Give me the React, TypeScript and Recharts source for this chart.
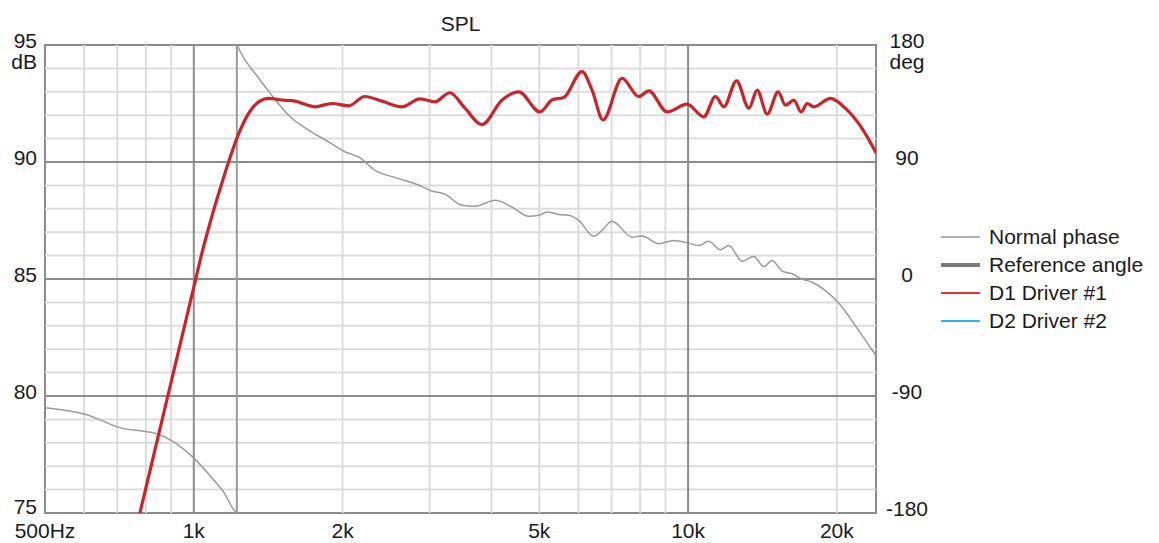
import React from "react";
import {
  LineChart,
  Line,
  XAxis,
  YAxis,
  ReferenceLine,
  ReferenceArea,
} from "recharts";

// SPL of driver #1 (dB)
const splFreq = [
  750, 778, 886, 1009, 1030, 1087, 1139, 1176, 1232, 1290, 1352, 1417, 1507, 1601, 1758, 1903,
  2057, 2219, 2403, 2636, 2868, 3075, 3296, 3537, 3828, 4203, 4542, 5016, 5305, 5604, 6102, 6394,
  6728, 7353, 7946, 8328, 9069, 9953, 10760, 11360, 11815, 12530, 13275, 13795, 14455, 15213,
  15740, 16370, 16935, 17413, 17967, 19410, 20820, 22500, 24000,
];
const splDb = [
  73.6, 75.0, 80.0, 85.0, 85.8, 87.65, 89.08, 90.0, 91.2, 92.07, 92.57, 92.72, 92.65, 92.6, 92.36,
  92.5, 92.4, 92.8, 92.6, 92.36, 92.7, 92.57, 92.96, 92.3, 91.6, 92.65, 93.0, 92.14, 92.65, 92.76,
  93.86, 93.07, 91.8, 93.57, 92.8, 93.04, 92.14, 92.47, 91.93, 92.8, 92.36, 93.47, 92.3, 93.07,
  92.05, 93.0, 92.43, 92.64, 92.14, 92.5, 92.36, 92.72, 92.29, 91.43, 90.4,
];

// normal phase (deg): below the wrap at ~1.22 kHz, then above it
const phaseLowFreq = [500, 603, 715, 785, 848, 903, 998, 1087, 1157, 1203, 1222];
const phaseLowDeg = [-99, -104, -114.7, -117, -119.4, -124.5, -137.4, -152.8, -165.6, -177.2, -180];
const phaseWrapFreq = [1222, 1222];
const phaseWrapDeg = [-180, 180];
const phaseHighFreq = [
  1222, 1270, 1331, 1427, 1555, 1707, 1874, 2025, 2154, 2328, 2556, 2806, 3033, 3227, 3487, 3710,
  4073, 4403, 4759, 4987, 5184, 5474, 5735, 6007, 6445, 6698, 7019, 7702, 8071, 8724, 9356, 10030,
  10512, 11015, 11625, 12087, 12864, 13582, 14228, 14791, 15500, 16237, 17016, 17823, 18967, 20190,
  22150, 24000,
];
const phaseHighDeg = [
  180, 168.4, 158, 143, 126, 114.5, 105.5, 97.7, 93.9, 83.6, 78, 73.3, 67.7, 65.1, 56.7, 56, 60.5,
  55.3, 48.2, 49, 51.5, 49.7, 49, 45.1, 32.8, 37.4, 44.5, 32.2, 33, 27.1, 29.7, 27.6, 25.8, 29.1,
  22.5, 25.8, 13.7, 17.3, 9.6, 14.3, 6, 4, -0.1, -2.5, -8.9, -18.7, -39.7, -59,
];

const freqTicks = [500, 1000, 2000, 5000, 10000, 20000];
const dbTicks = [75, 80, 85, 90, 95];
const degTicks = [-180, -90, 0, 90, 180];
const freqMinor = [600, 700, 800, 900, 2000, 3000, 4000, 5000, 6000, 7000, 8000, 9000, 20000];
const freqMajor = [1000, 10000];
const dbMinor = [76, 77, 78, 79, 81, 82, 83, 84, 86, 87, 88, 89, 91, 92, 93, 94];
const dbMajor = [80, 85, 90];

const legendItems = [
  { name: "Normal phase", color: "#9a9a9a", width: 1.5 },
  { name: "Reference angle", color: "#7a7a7a", width: 4 },
  { name: "D1 Driver #1", color: "#e8303a", width: 2 },
  { name: "D2 Driver #2", color: "#2cb5e8", width: 2 },
];

const FONT = "'Liberation Sans', Arial, sans-serif";
const TEXT = "#1a1a1a";
const PHASE = "#9a9a9a";

const toRows = (fs: number[], vs: number[], key: string) => fs.map((f, i) => ({ f, [key]: vs[i] }));
const splData = toRows(splFreq, splDb, "db");
const phaseLow = toRows(phaseLowFreq, phaseLowDeg, "deg");
const phaseWrap = toRows(phaseWrapFreq, phaseWrapDeg, "deg");
const phaseHigh = toRows(phaseHighFreq, phaseHighDeg, "deg");

const fmtFreq = (v: number) => (v === 500 ? "500Hz" : `${v / 1000}k`);

const FreqTick = ({ x, y, payload }: any) => (
  <text x={x} y={y + 25} textAnchor="middle" fontSize={21} fontFamily={FONT} fill={TEXT}>
    {fmtFreq(payload.value)}
  </text>
);

const DbTick = ({ x, y, payload }: any) => (
  <g>
    <text
      x={x - 8}
      y={y + (payload.value === 75 ? 1 : 3)}
      textAnchor="end"
      fontSize={21}
      fontFamily={FONT}
      fill={TEXT}
    >
      {payload.value}
    </text>
    {payload.value === 95 && (
      <text x={x - 8} y={y + 24} textAnchor="end" fontSize={21} fontFamily={FONT} fill={TEXT}>
        dB
      </text>
    )}
  </g>
);

const DegTick = ({ x, y, payload }: any) => (
  <g>
    <text x={x + 31} y={y + 3} textAnchor="middle" fontSize={21} fontFamily={FONT} fill={TEXT}>
      {payload.value}
    </text>
    {payload.value === 180 && (
      <text x={x + 31} y={y + 24} textAnchor="middle" fontSize={21} fontFamily={FONT} fill={TEXT}>
        deg
      </text>
    )}
  </g>
);

export default function App() {
  return (
    <div style={{ position: "absolute", left: 0, top: 0, width: 1159, height: 543, background: "#fff" }}>
      <div
        style={{
          position: "absolute",
          left: 0,
          width: 921,
          top: 12,
          textAlign: "center",
          fontFamily: FONT,
          fontSize: 21,
          color: TEXT,
        }}
      >
        SPL
      </div>
      <LineChart width={1159} height={543} margin={{ top: 45, right: 0, bottom: 0, left: 0 }}>
        <XAxis
          dataKey="f"
          type="number"
          scale="log"
          domain={[500, 24000]}
          allowDataOverflow
          ticks={freqTicks}
          interval={0}
          height={30}
          tick={<FreqTick />}
          tickLine={false}
          axisLine={false}
          tickSize={0}
          tickMargin={0}
        />
        <YAxis
          yAxisId="db"
          orientation="left"
          type="number"
          domain={[75, 95]}
          allowDataOverflow
          ticks={dbTicks}
          interval={0}
          width={45}
          tick={<DbTick />}
          tickLine={false}
          axisLine={false}
          tickSize={0}
          tickMargin={0}
        />
        <YAxis
          yAxisId="deg"
          orientation="right"
          type="number"
          domain={[-180, 180]}
          allowDataOverflow
          ticks={degTicks}
          interval={0}
          width={283}
          tick={<DegTick />}
          tickLine={false}
          axisLine={false}
          tickSize={0}
          tickMargin={0}
        />
        {freqMinor.map((v) => (
          <ReferenceLine key={`fm${v}`} x={v} yAxisId="db" stroke="#dcdcdc" strokeWidth={2} />
        ))}
        {dbMinor.map((v) => (
          <ReferenceLine key={`dm${v}`} y={v} yAxisId="db" stroke="#dcdcdc" strokeWidth={2} />
        ))}
        {freqMajor.map((v) => (
          <ReferenceLine key={`fM${v}`} x={v} yAxisId="db" stroke="#8c8c8c" strokeWidth={2} />
        ))}
        {dbMajor.map((v) => (
          <ReferenceLine key={`dM${v}`} y={v} yAxisId="db" stroke="#8c8c8c" strokeWidth={2} />
        ))}
        <ReferenceArea
          x1={500}
          x2={24000}
          y1={75}
          y2={95}
          yAxisId="db"
          fill="none"
          stroke="#8c8c8c"
          strokeWidth={2}
        />
        <Line
          data={phaseLow}
          dataKey="deg"
          yAxisId="deg"
          type="monotone"
          stroke={PHASE}
          strokeWidth={1.5}
          dot={false}
          isAnimationActive={false}
        />
        <Line
          data={phaseWrap}
          dataKey="deg"
          yAxisId="deg"
          type="linear"
          stroke={PHASE}
          strokeWidth={2}
          dot={false}
          isAnimationActive={false}
        />
        <Line
          data={phaseHigh}
          dataKey="deg"
          yAxisId="deg"
          type="monotone"
          stroke={PHASE}
          strokeWidth={1.5}
          dot={false}
          isAnimationActive={false}
        />
        <Line
          data={splData}
          dataKey="db"
          yAxisId="db"
          type="monotone"
          stroke="#cc2229"
          strokeWidth={3.2}
          dot={false}
          isAnimationActive={false}
        />
      </LineChart>
      <div style={{ position: "absolute", left: 941, top: 223, fontFamily: FONT, fontSize: 21, color: TEXT }}>
        {legendItems.map((it) => (
          <div key={it.name} style={{ display: "flex", alignItems: "center", height: 28 }}>
            <svg width={39} height={28} style={{ marginRight: 9 }}>
              <line x1={0} x2={39} y1={14} y2={14} stroke={it.color} strokeWidth={it.width} />
            </svg>
            <span>{it.name}</span>
          </div>
        ))}
      </div>
    </div>
  );
}
